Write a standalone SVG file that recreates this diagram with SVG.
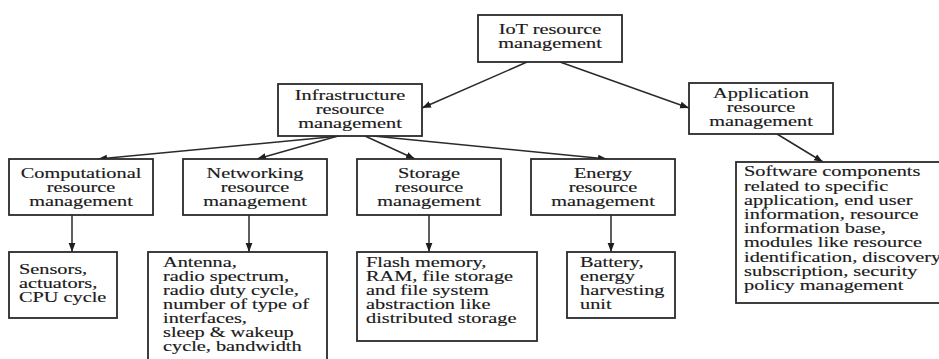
<svg xmlns="http://www.w3.org/2000/svg" width="939" height="359" viewBox="0 0 939 359">
<defs>
<marker id="ah" markerUnits="userSpaceOnUse" markerWidth="10" markerHeight="8" viewBox="0 0 10 8" refX="9" refY="4" orient="auto">
<path d="M0,0.6 L9,4 L0,7.4 Z" fill="#1e1e1e"/>
</marker>
<style>
rect{fill:#fff;stroke:#2a2a2a;stroke-width:1.8}
text{font-family:"Liberation Serif","Times New Roman","DejaVu Serif",serif;font-size:14.5px;fill:#1a1a1a;stroke:#1a1a1a;stroke-width:0.15}
.c{text-anchor:middle}
.e line{stroke:#2a2a2a;stroke-width:1.5;marker-end:url(#ah)}
</style>
</defs>
<rect x="0" y="0" width="939" height="359" style="fill:#fff;stroke:none"/>
<g class="e" id="connectors">
<line x1="527" y1="62" x2="422" y2="108"/>
<line x1="560" y1="62" x2="689" y2="108"/>
<line x1="340" y1="136" x2="98" y2="159"/>
<line x1="338" y1="136" x2="257" y2="159"/>
<line x1="365" y1="136" x2="415" y2="159"/>
<line x1="373" y1="136" x2="607" y2="159"/>
<line x1="777" y1="134" x2="823" y2="162"/>
<line x1="72" y1="215" x2="72" y2="252"/>
<line x1="249" y1="215" x2="249" y2="252"/>
<line x1="429" y1="215" x2="429" y2="252"/>
<line x1="611" y1="215" x2="611" y2="252"/>
</g>
<g id="iot">
<rect x="478" y="15" width="144" height="47"/>
<text class="c" transform="translate(550,0) scale(1.4,1)"><tspan x="0" y="34">IoT resource</tspan><tspan x="0" y="48">management</tspan></text>
</g>
<g id="infra">
<rect x="278" y="84" width="144" height="52"/>
<text class="c" transform="translate(350,0) scale(1.4,1)"><tspan x="0" y="100">Infrastructure</tspan><tspan x="0" y="114">resource</tspan><tspan x="0" y="128">management</tspan></text>
</g>
<g id="app">
<rect x="689" y="83" width="144" height="51"/>
<text class="c" transform="translate(761,0) scale(1.4,1)"><tspan x="0" y="98">Application</tspan><tspan x="0" y="112">resource</tspan><tspan x="0" y="126">management</tspan></text>
</g>
<g id="comp">
<rect x="9" y="159" width="144" height="56"/>
<text class="c" transform="translate(81,0) scale(1.4,1)"><tspan x="0" y="178">Computational</tspan><tspan x="0" y="192">resource</tspan><tspan x="0" y="206">management</tspan></text>
</g>
<g id="net">
<rect x="183" y="159" width="144" height="56"/>
<text class="c" transform="translate(255,0) scale(1.4,1)"><tspan x="0" y="178">Networking</tspan><tspan x="0" y="192">resource</tspan><tspan x="0" y="206">management</tspan></text>
</g>
<g id="storage">
<rect x="357" y="159" width="144" height="56"/>
<text class="c" transform="translate(429,0) scale(1.4,1)"><tspan x="0" y="178">Storage</tspan><tspan x="0" y="192">resource</tspan><tspan x="0" y="206">management</tspan></text>
</g>
<g id="energy">
<rect x="531" y="159" width="144" height="56"/>
<text class="c" transform="translate(603,0) scale(1.4,1)"><tspan x="0" y="178">Energy</tspan><tspan x="0" y="192">resource</tspan><tspan x="0" y="206">management</tspan></text>
</g>
<g id="software">
<rect x="736" y="162" width="215" height="141"/>
<text transform="translate(744,0) scale(1.4,1)"><tspan x="0" y="176.5">Software components</tspan><tspan x="0" y="190.7">related to specific</tspan><tspan x="0" y="204.9">application, end user</tspan><tspan x="0" y="219.1">information, resource</tspan><tspan x="0" y="233.3">information base,</tspan><tspan x="0" y="247.5">modules like resource</tspan><tspan x="0" y="261.7">identification, discovery,</tspan><tspan x="0" y="275.9">subscription, security</tspan><tspan x="0" y="290.1">policy management</tspan></text>
</g>
<g id="sensors">
<rect x="9" y="252" width="108" height="66"/>
<text transform="translate(19,0) scale(1.4,1)"><tspan x="0" y="274">Sensors,</tspan><tspan x="0" y="288">actuators,</tspan><tspan x="0" y="302">CPU cycle</tspan></text>
</g>
<g id="antenna">
<rect x="148" y="252" width="179" height="120"/>
<text transform="translate(163,0) scale(1.4,1)"><tspan x="0" y="267">Antenna,</tspan><tspan x="0" y="281">radio spectrum,</tspan><tspan x="0" y="295">radio duty cycle,</tspan><tspan x="0" y="309">number of type of</tspan><tspan x="0" y="323">interfaces,</tspan><tspan x="0" y="337">sleep &amp; wakeup</tspan><tspan x="0" y="351">cycle, bandwidth</tspan></text>
</g>
<g id="flash">
<rect x="357" y="252" width="180" height="89"/>
<text transform="translate(366,0) scale(1.4,1)"><tspan x="0" y="267">Flash memory,</tspan><tspan x="0" y="281">RAM, file storage</tspan><tspan x="0" y="295">and file system</tspan><tspan x="0" y="309">abstraction like</tspan><tspan x="0" y="323">distributed storage</tspan></text>
</g>
<g id="battery">
<rect x="567" y="252" width="108" height="66"/>
<text transform="translate(580,0) scale(1.4,1)"><tspan x="0" y="267">Battery,</tspan><tspan x="0" y="281">energy</tspan><tspan x="0" y="295">harvesting</tspan><tspan x="0" y="309">unit</tspan></text>
</g>
</svg>
